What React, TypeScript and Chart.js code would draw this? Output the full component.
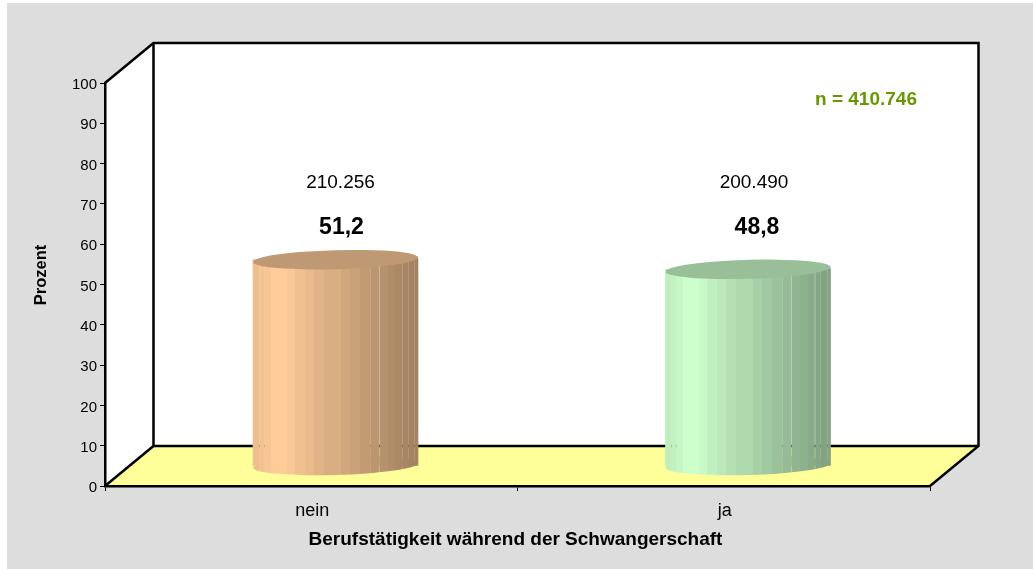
import React, { useEffect, useRef } from "react";
import { Chart, registerables } from "chart.js";

Chart.register(...registerables);

const categories = ["nein", "ja"];
const percentValues = [51.2, 48.8];
const percentLabels = ["51,2", "48,8"];
const countLabels = ["210.256", "200.490"];
const sampleLabel = "n = 410.746";
const xTitle = "Berufstätigkeit während der Schwangerschaft";
const yTitle = "Prozent";
const sideColors = [[255, 204, 153], [204, 255, 204]];
const topColors = ["#BF9973", "#99BF99"];

// Facets of the cylinder surface (style only)
const facetEdges = [0, 0.04, 0.07, 0.107, 0.207, 0.253, 0.313, 0.368, 0.432, 0.534, 0.59, 0.649, 0.715, 0.765, 0.819, 0.863, 0.905, 0.94, 1];
const facetShades = [0.93, 0.95, 0.97, 1, 0.98, 0.94, 0.915, 0.88, 0.855, 0.815, 0.79, 0.76, 0.735, 0.71, 0.69, 0.67, 0.655, 0.64];
const seams = [[0.04, 0.2], [0.07, 0.12], [0.713, 0.12], [0.765, 0.35], [0.904, 0.18], [0.94, 0.15], [0.98, 0.15]];

const FONT = "'Liberation Sans', Arial, sans-serif";
const BAR_WIDTH = 165;
const DEPTH_X = 48.5;
const DEPTH_Y = 40;
const RY = 9.5;
const TILT = -0.028;
const COUNT_X_SHIFT = [5, 6];
const PCT_X_SHIFT = [6, 9];

function facetGradient(ctx: CanvasRenderingContext2D, left: number, rgb: number[]) {
  const g = ctx.createLinearGradient(left, 0, left + BAR_WIDTH, 0);
  for (let i = 0; i < BAR_WIDTH; i++) {
    const f = (i + 0.5) / BAR_WIDTH;
    let k = facetEdges.findIndex((e, j) => f >= e && f < facetEdges[j + 1]);
    if (k < 0) k = facetShades.length - 1;
    const s = facetShades[k];
    const seam = seams.find((sm) => Math.abs(sm[0] - f) < 0.5 / BAR_WIDTH);
    const a = seam ? 1 - seam[1] : 1;
    const c = `rgba(${Math.round(rgb[0] * s)},${Math.round(rgb[1] * s)},${Math.round(rgb[2] * s)},${a})`;
    g.addColorStop(i / BAR_WIDTH, c);
    g.addColorStop((i + 1) / BAR_WIDTH, c);
  }
  return g;
}

function wallLine(ctx: CanvasRenderingContext2D, pts: number[][]) {
  ctx.beginPath();
  pts.forEach((p, i) => (i ? ctx.lineTo(p[0], p[1]) : ctx.moveTo(p[0], p[1])));
  ctx.stroke();
}

const scenePlugin = {
  id: "scene3d",
  beforeDraw(chart: any) {
    const { ctx, width, height } = chart;
    const { x, y } = chart.scales;
    const L = x.left, R = x.right, T = y.top, B = y.bottom;
    const dx = DEPTH_X, dy = DEPTH_Y;
    ctx.save();
    ctx.fillStyle = "#FFFFFF";
    ctx.fillRect(0, 0, width, height);
    ctx.fillStyle = "#DDDDDD";
    ctx.fillRect(7, 3, width - 7, height - 3);
    ctx.fillStyle = "#FFFFFF";
    ctx.beginPath();
    ctx.moveTo(L, T); ctx.lineTo(L + dx, T - dy); ctx.lineTo(R + dx, T - dy);
    ctx.lineTo(R + dx, B - dy); ctx.lineTo(L, B);
    ctx.closePath();
    ctx.fill();
    ctx.fillStyle = "#FFFF99";
    ctx.beginPath();
    ctx.moveTo(L, B); ctx.lineTo(L + dx, B - dy); ctx.lineTo(R + dx, B - dy); ctx.lineTo(R, B);
    ctx.closePath();
    ctx.fill();
    ctx.strokeStyle = "#000000";
    ctx.lineWidth = 2.5;
    ctx.lineJoin = "miter";
    wallLine(ctx, [[L, T], [L + dx, T - dy], [R + dx, T - dy], [R + dx, B - dy], [R, B]]);
    wallLine(ctx, [[L + dx, T - dy], [L + dx, B - dy], [R + dx, B - dy]]);
    wallLine(ctx, [[L, B], [L + dx, B - dy]]);
    ctx.restore();
  },
  beforeDatasetDraw(chart: any) {
    chart.ctx.save();
    chart.ctx.translate(DEPTH_X / 2, -DEPTH_Y / 2);
  },
  afterDatasetDraw(chart: any, args: any) {
    const { ctx } = chart;
    const els = args.meta.data;
    els.forEach((el: any, i: number) => {
      const side = facetGradient(ctx, el.x - BAR_WIDTH / 2, sideColors[i]);
      ctx.fillStyle = side;
      ctx.beginPath();
      ctx.ellipse(el.x, el.base, BAR_WIDTH / 2, RY, TILT, 0, Math.PI * 2);
      ctx.fill();
      ctx.fillRect(el.x, el.y - (BAR_WIDTH / 2) * Math.abs(Math.sin(TILT)), BAR_WIDTH / 2, (BAR_WIDTH / 2) * Math.abs(Math.sin(TILT)) + 1);
      ctx.fillStyle = topColors[i];
      ctx.beginPath();
      ctx.ellipse(el.x, el.y, BAR_WIDTH / 2, RY, TILT, 0, Math.PI * 2);
      ctx.fill();
    });
    ctx.restore();
  },
  afterDraw(chart: any) {
    const { ctx } = chart;
    const { x, y } = chart.scales;
    const els = chart.getDatasetMeta(0).data;
    ctx.save();
    ctx.textAlign = "center";
    ctx.textBaseline = "middle";
    ctx.fillStyle = "#000000";
    els.forEach((el: any, i: number) => {
      const cx = el.x + DEPTH_X / 2;
      ctx.font = `19px ${FONT}`;
      ctx.fillText(countLabels[i], cx + COUNT_X_SHIFT[i], y.getPixelForValue(75.3));
      ctx.font = `bold 23px ${FONT}`;
      ctx.fillText(percentLabels[i], cx + PCT_X_SHIFT[i], y.getPixelForValue(64.2));
    });
    ctx.font = `bold 19px ${FONT}`;
    ctx.fillStyle = "#669900";
    ctx.fillText(sampleLabel, 866, 100);
    ctx.fillStyle = "#000000";
    ctx.font = `bold 19px ${FONT}`;
    ctx.fillText(xTitle, (x.left + x.right) / 2 - 2, 540);
    ctx.translate(41, 275);
    ctx.rotate(-Math.PI / 2);
    ctx.font = `bold 16.5px ${FONT}`;
    ctx.fillText(yTitle, 0, 0);
    ctx.restore();
  },
};

export default function App() {
  const ref = useRef<HTMLCanvasElement | null>(null);
  useEffect(() => {
    const chart = new Chart(ref.current as HTMLCanvasElement, {
      type: "bar",
      data: {
        labels: categories,
        datasets: [
          {
            data: percentValues,
            barThickness: BAR_WIDTH,
            borderWidth: 0,
            backgroundColor: (c: any) => {
              const xs = c.chart.scales.x;
              if (!xs || c.dataIndex === undefined || !c.chart.chartArea) return "#FFCC99";
              const cx = xs.getPixelForValue(c.dataIndex);
              return facetGradient(c.chart.ctx, cx - BAR_WIDTH / 2, sideColors[c.dataIndex]);
            },
          },
        ],
      },
      options: {
        responsive: false,
        animation: false,
        layout: { autoPadding: false, padding: { left: 0, right: 103, top: 83, bottom: 0 } },
        plugins: { legend: { display: false }, tooltip: { enabled: false }, title: { display: false } },
        scales: {
          x: {
            afterFit: (s: any) => { s.height = 83; },
            grid: { drawOnChartArea: false, color: "#000000", tickLength: 5, lineWidth: 1 },
            border: { color: "#000000", width: 2.5 },
            ticks: { color: "#000000", font: { family: FONT, size: 18 }, padding: 9, maxRotation: 0, labelOffset: 1 },
          },
          y: {
            min: 0,
            max: 100,
            afterFit: (s: any) => { s.width = 105; },
            grid: { drawOnChartArea: false, color: "#000000", tickLength: 5, lineWidth: 1 },
            border: { color: "#000000", width: 2.5 },
            ticks: { stepSize: 10, color: "#000000", font: { family: FONT, size: 15 }, padding: 3, labelOffset: 2 },
          },
        },
      } as any,
      plugins: [scenePlugin as any],
    });
    return () => chart.destroy();
  }, []);
  return <canvas ref={ref} width={1033} height={569} style={{ position: "fixed", left: 0, top: 0, display: "block" }} />;
}
